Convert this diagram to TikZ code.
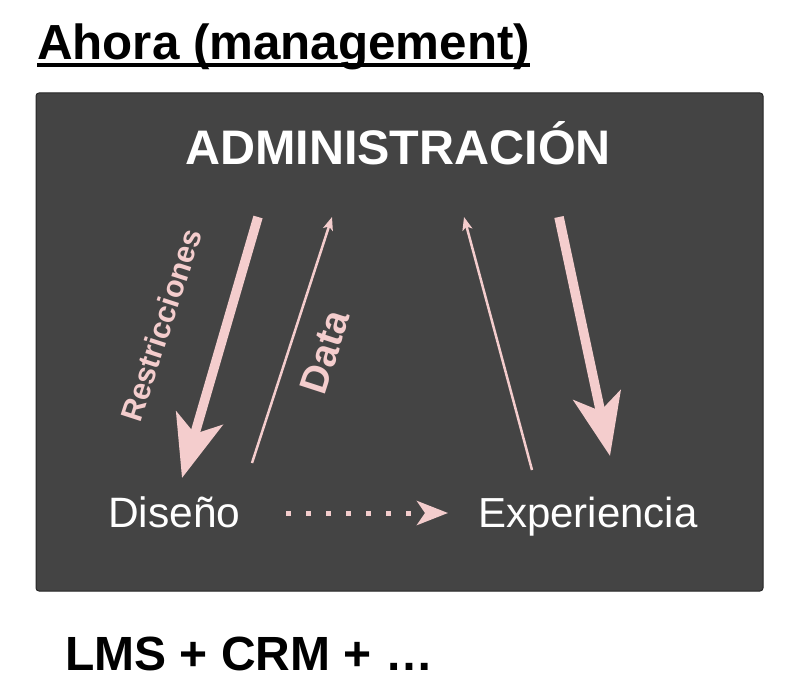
\documentclass[tikz,border=0pt]{standalone}
\usepackage{fontspec}
\setmainfont{Liberation Sans}
\usetikzlibrary{arrows.meta}
\definecolor{boxgray}{RGB}{68,68,68}
\definecolor{boxedge}{RGB}{38,38,38}
\definecolor{pinkc}{RGB}{244,205,205}
\begin{document}
\begin{tikzpicture}[x=1pt,y=-1pt,
  lbl/.style={inner sep=0pt, outer sep=0pt},
  thickarrow/.style={pinkc, line width=9.5pt, -{Stealth[length=62pt,width=48pt,inset=16pt]}},
  thinarrow/.style={pinkc, line width=2.5pt, -{Stealth[length=13pt,width=10pt,inset=3pt]}},
  dotarrow/.style={pinkc, line width=5pt, dash pattern=on 5pt off 15pt, -{Stealth[length=31pt,width=24pt,inset=8pt]}},
]
\useasboundingbox (0,0) rectangle (800,695);
\fill[white] (0,0) rectangle (800,695);
% title
\node[lbl, anchor=base west, font=\fontsize{49.3}{58}\selectfont\bfseries] (title) at (37,60) {Ahora (management)};
\draw[line width=3.5pt] ([yshift=-5pt]title.base west) -- ([yshift=-5pt]title.base east);
% box
\draw[fill=boxgray, draw=boxedge, line width=1pt, rounded corners=3pt] (36,93) rectangle (763,591);
\node[lbl, anchor=base, text=white, font=\fontsize{48.5}{58}\selectfont\bfseries] (admin) at (398,165) {ADMINISTRACIÓN};
\node[lbl, anchor=base west, text=white, font=\fontsize{42.5}{50}\selectfont] (dis) at (108,527) {Diseño};
\node[lbl, anchor=base west, text=white, font=\fontsize{42}{50}\selectfont] (exp) at (478,527) {Experiencia};
% arrow end points
\coordinate (r1) at (258,217); \coordinate (r2) at (182,478);
\coordinate (d1) at (252,463); \coordinate (d2) at (332,217);
\coordinate (e1) at (532,470); \coordinate (e2) at (464,217);
\coordinate (k1) at (559,217); \coordinate (k2) at (610,456);
\coordinate (o1) at (286,513); \coordinate (o2) at (448,513);
\draw[thickarrow] (r1) -- (r2);
\draw[thinarrow] (d1) -- (d2);
\draw[thinarrow] (e1) -- (e2);
\draw[thickarrow] (k1) -- (k2);
\draw[dotarrow] (o1) -- (o2);
% labels
\node[lbl, rotate=72, text=pinkc, font=\fontsize{30.5}{36}\selectfont\bfseries] (restr) at (161,325) {Restricciones};
\node[lbl, rotate=72, text=pinkc, font=\fontsize{39}{46}\selectfont\bfseries] (data) at (325,352) {Data};
% bottom
\node[lbl, anchor=base west, font=\fontsize{48}{57}\selectfont\bfseries] (lms) at (65,670) {LMS + CRM + …};
\end{tikzpicture}
\end{document}
